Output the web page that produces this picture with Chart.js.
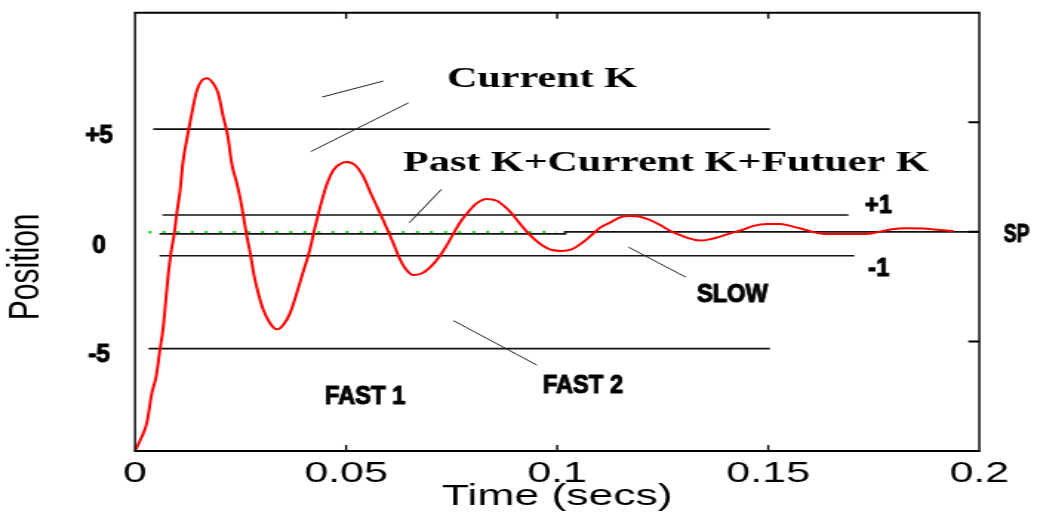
<!DOCTYPE html>
<html>
<head>
<meta charset="utf-8">
<title>Position vs Time</title>
<script src="https://cdn.jsdelivr.net/npm/chart.js@4.4.1/dist/chart.umd.min.js"></script>
<style>
  html, body { margin: 0; padding: 0; background: #fff; overflow: hidden; }
  /* the source figure is stretched sideways, so the whole canvas is stretched the same way */
  #wrap { width: 700px; height: 515px; transform: scaleX(1.4814); transform-origin: 0 0; }
</style>
</head>
<body>
<div id="wrap"><canvas id="posChart" width="700" height="515"></canvas></div>
<script>
// response curve
const timeSecs = [0, 0.0016, 0.0028, 0.0040, 0.0050, 0.0059, 0.0067, 0.0073, 0.0079, 0.0085,
  0.0093, 0.0099, 0.0107, 0.0113, 0.0126, 0.0134, 0.0146, 0.0158, 0.0170, 0.0185,
  0.0197, 0.0209, 0.0220, 0.0229, 0.0241, 0.0249, 0.0257, 0.0265, 0.0273, 0.0281,
  0.0292, 0.0304, 0.0320, 0.0336, 0.0351, 0.0367, 0.0383, 0.0399, 0.0414, 0.0424,
  0.0434, 0.0442, 0.0454, 0.0470, 0.0486, 0.0501, 0.0521, 0.0541, 0.0557, 0.0572,
  0.0584, 0.0600, 0.0612, 0.0624, 0.0640, 0.0659, 0.0679, 0.0699, 0.0723, 0.0742,
  0.0758, 0.0774, 0.0790, 0.0809, 0.0833, 0.0857, 0.0876, 0.0892, 0.0908, 0.0928,
  0.0948, 0.0967, 0.0987, 0.1011, 0.1034, 0.1058, 0.1082, 0.1101, 0.1125, 0.1149,
  0.1172, 0.1196, 0.1220, 0.1244, 0.1267, 0.1291, 0.1311, 0.1339, 0.1362, 0.1386,
  0.1410, 0.1433, 0.1465, 0.1496, 0.1528, 0.1559, 0.1583, 0.1603, 0.1638, 0.1686,
  0.1729, 0.1765, 0.1793, 0.1828, 0.1876, 0.1907, 0.1939];
const position = [-10, -9.35, -8.72, -7.35, -6.61, -5.39, -4.33, -3.11, -1.89, -0.98,
  -0.07, 0.85, 1.91, 3.10, 4.55, 5.35, 6.42, 6.90, 7.01, 6.78,
  6.32, 5.25, 4.34, 3.13, 2.22, 1.55, 0.68, -0.22, -0.98, -1.89,
  -2.80, -3.57, -4.17, -4.45, -4.25, -3.72, -2.80, -1.78, -0.83, 0.02,
  0.80, 1.38, 2.15, 2.82, 3.10, 3.19, 3.05, 2.52, 1.82, 1.20,
  0.70, 0.01, -0.52, -1.10, -1.66, -1.97, -1.90, -1.62, -1.08, -0.50,
  0.05, 0.54, 0.92, 1.30, 1.50, 1.42, 1.15, 0.85, 0.46, 0.01,
  -0.37, -0.65, -0.83, -0.87, -0.80, -0.52, -0.14, 0.18, 0.42, 0.66,
  0.72, 0.69, 0.54, 0.31, 0.05, -0.14, -0.29, -0.40, -0.34, -0.22,
  -0.07, 0.05, 0.27, 0.36, 0.36, 0.24, 0.12, 0.01, -0.10, -0.10,
  -0.10, 0.01, 0.12, 0.16, 0.14, 0.08, 0.04];

// band lines (+5 / -5 / +1 / -1)
const bandLevel = [4.69, -5.33, 0.77, -1.09];
const bandStart = [0.0043, 0.0032, 0.0065, 0.0058];
const bandEnd = [0.1504, 0.1504, 0.1690, 0.1704];

// set point
const spTime = [0.0058, 0.1019, 0.1019, 0.2];
const spLevel = [-0.09, -0.09, 0, 0];
const greenTime = [0.0032, 0.1];
const greenLevel = [-0.02, -0.02];

// pointer strokes: [t0, v0, t1, v1]
const pointers = [
  [0.0443, 6.15, 0.0588, 6.88],
  [0.0416, 3.66, 0.0648, 5.89],
  [0.0650, 0.42, 0.0726, 1.94],
  [0.1169, -0.70, 0.1305, -2.07],
  [0.0754, -4.05, 0.0952, -6.08]
];

// notes: text, left edge time, baseline level
const noteText = ['Current K', 'Past K+Current K+Futuer K', '+1', '-1', 'SP', 'SLOW', 'FAST 1', 'FAST 2'];
const noteTime = [0.0739, 0.0635, 0.1729, 0.1737, 0.2058, 0.1331, 0.0450, 0.0966];
const noteLevel = [6.61, 2.79, 0.85, -2.01, -0.46, -3.19, -7.86, -7.34];

const xTickLabels = ['0', '0.05', '0.1', '0.15', '0.2'];
const yTickValues = [5, 0, -5];
const yTickLabels = ['+5', '0', '-5'];

const SERIF = 'bold 29px "Liberation Serif", "Times New Roman", serif';
const BOLD = 'bold 25px "Liberation Sans", Arial, sans-serif';

function squeezeText(ctx, text, x, y, font, sx, align, heavy) {
  ctx.save();
  ctx.font = font;
  ctx.textAlign = align || 'left';
  ctx.textBaseline = 'alphabetic';
  ctx.translate(x, y);
  ctx.scale(sx, 1);
  ctx.fillText(text, 0, 0);
  if (heavy) {
    // the label font in the picture is a heavy bitmap face
    ctx.lineWidth = 1.1;
    ctx.lineJoin = 'round';
    ctx.strokeText(text, 0, 0);
  }
  ctx.restore();
}

const overlay = {
  id: 'overlay',
  afterDraw(chart) {
    const { ctx, chartArea: a, scales: { x, y } } = chart;
    ctx.save();
    ctx.strokeStyle = '#000';
    ctx.fillStyle = '#000';

    // axes box
    ctx.lineWidth = 2;
    ctx.beginPath();
    ctx.moveTo(a.left - 0.7, a.top); ctx.lineTo(a.right + 0.7, a.top);
    ctx.moveTo(a.left - 0.7, a.bottom); ctx.lineTo(a.right + 0.7, a.bottom);
    ctx.stroke();
    ctx.lineWidth = 1.4;
    ctx.beginPath();
    ctx.moveTo(a.left, a.top); ctx.lineTo(a.left, a.bottom);
    ctx.moveTo(a.right, a.top); ctx.lineTo(a.right, a.bottom);
    // inward ticks top and bottom
    x.ticks.forEach(t => {
      if (t.value <= x.min + 1e-9 || t.value >= x.max - 1e-9) return;
      const px = x.getPixelForValue(t.value);
      ctx.moveTo(px, a.top); ctx.lineTo(px, a.top + 6);
      ctx.moveTo(px, a.bottom); ctx.lineTo(px, a.bottom - 6);
    });
    ctx.stroke();
    // inward ticks on the right
    ctx.lineWidth = 2;
    ctx.beginPath();
    yTickValues.forEach(v => {
      const py = y.getPixelForValue(v);
      ctx.moveTo(a.right, py); ctx.lineTo(a.right - 7.4, py);
    });
    ctx.stroke();

    // y tick labels
    yTickValues.forEach((v, i) => {
      squeezeText(ctx, yTickLabels[i], a.left - 24.3, y.getPixelForValue(v) + 21, BOLD, 0.66, 'center', true);
    });

    // y title
    ctx.save();
    ctx.translate(18.2, (a.top + a.bottom) / 2 + 35);
    ctx.rotate(-Math.PI / 2);
    ctx.font = '30px "Liberation Sans", Arial, sans-serif';
    ctx.textAlign = 'center';
    ctx.textBaseline = 'middle';
    ctx.fillText('Position', 0, 0);
    ctx.restore();

    // notes
    noteText.forEach((txt, i) => {
      const px = x.getPixelForValue(noteTime[i]);
      const py = y.getPixelForValue(noteLevel[i]);
      if (i < 2) squeezeText(ctx, txt, px, py, SERIF, 0.98);
      else squeezeText(ctx, txt, px, py, BOLD, txt === 'SP' ? 0.52 : 0.64, 'left', true);
    });
    ctx.restore();
  }
};

const pts = (xs, ys) => xs.map((t, i) => ({ x: t, y: ys[i] }));

const datasets = [
  {
    label: 'Position',
    data: pts(timeSecs, position),
    borderColor: '#ff0000',
    borderWidth: 2,
    pointRadius: 0,
    cubicInterpolationMode: 'monotone'
  },
  ...pointers.map((p, i) => ({
    label: 'pointer ' + (i + 1),
    data: [{ x: p[0], y: p[1] }, { x: p[2], y: p[3] }],
    borderColor: '#222',
    borderWidth: 1,
    pointRadius: 0
  })),
  ...bandLevel.map((lv, i) => ({
    label: 'band ' + i,
    data: [{ x: bandStart[i], y: lv }, { x: bandEnd[i], y: lv }],
    borderColor: '#111',
    borderWidth: 1.7,
    pointRadius: 0
  })),
  {
    label: 'SP',
    data: pts(spTime, spLevel),
    borderColor: '#111',
    borderWidth: 1.7,
    pointRadius: 0
  },
  {
    label: 'setpoint',
    data: pts(greenTime, greenLevel),
    borderColor: '#00e000',
    borderWidth: 2.6,
    borderDash: [2, 7.5],
    pointRadius: 0
  }
];

new Chart(document.getElementById('posChart'), {
  type: 'line',
  data: { datasets },
  plugins: [overlay],
  options: {
    responsive: false,
    devicePixelRatio: 1,
    animation: false,
    layout: { padding: { left: 0, right: 38.94, top: 12.7, bottom: 0 } },
    plugins: { legend: { display: false }, tooltip: { enabled: false } },
    scales: {
      x: {
        type: 'linear',
        min: 0,
        max: 0.2,
        grid: { display: false, drawTicks: false },
        border: { display: false },
        ticks: {
          stepSize: 0.05,
          autoSkip: false,
          maxRotation: 0,
          padding: 8,
          color: '#000',
          font: { family: '"Liberation Sans", Arial, sans-serif', size: 29, lineHeight: 1 },
          callback: (v, i) => xTickLabels[i]
        },
        title: {
          display: true,
          text: 'Time (secs)',
          color: '#000',
          padding: { top: 0, bottom: 3 },
          font: { family: '"Liberation Sans", Arial, sans-serif', size: 30, lineHeight: 1 }
        },
        afterFit: s => { s.height = 64; }
      },
      y: {
        min: -10,
        max: 10,
        grid: { display: false, drawTicks: false },
        border: { display: false },
        ticks: { display: false, stepSize: 5 },
        afterFit: s => { s.width = 91.13; }
      }
    }
  }
});
</script>
</body>
</html>
